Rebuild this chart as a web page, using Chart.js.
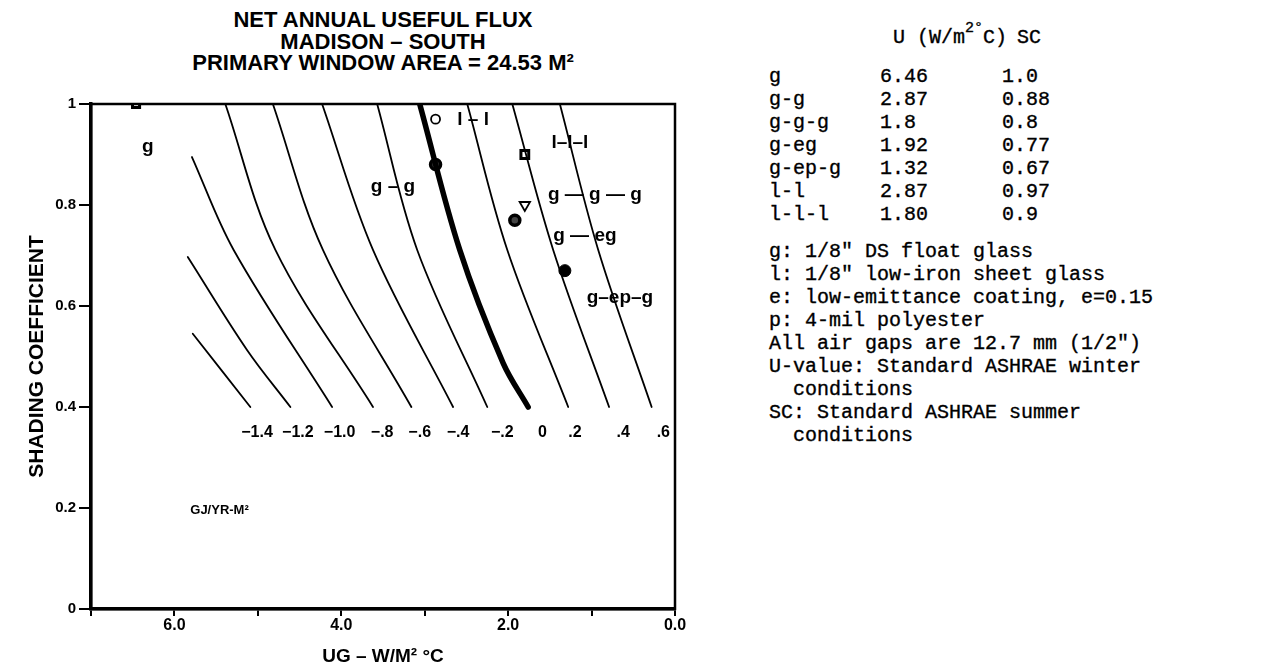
<!DOCTYPE html>
<html>
<head>
<meta charset="utf-8">
<script src="https://cdn.jsdelivr.net/npm/chart.js@4.4.1/dist/chart.umd.min.js"></script>
<style>
  html, body { margin:0; padding:0; background:#fff; }
  #wrap { position:relative; width:1278px; height:667px; overflow:hidden; background:#fff; }
  #plot { position:absolute; left:0; top:0; }
  .ttl { position:absolute; left:0; width:766px; text-align:center; color:#000;
         font:bold 22px/22px "Liberation Sans", Arial, sans-serif; }
  .tx  { position:absolute; color:#000; white-space:pre; -webkit-text-stroke:0.35px #000;
         font:20px/23px "Liberation Mono", "Courier New", monospace; }
  .tx sup { font-size:15px; line-height:0; position:relative; top:-3px; }
</style>
</head>
<body>
<div id="wrap">
  <div class="ttl" style="top:9px">NET ANNUAL USEFUL FLUX</div>
  <div class="ttl" style="top:31px">MADISON – SOUTH</div>
  <div class="ttl" style="top:52px">PRIMARY WINDOW AREA = 24.53 M²</div>
  <canvas id="plot" width="700" height="667"></canvas>
  <div id="table"></div>
</div>
<script>
'use strict';
// ── Net annual useful flux, Madison – South ─────────────

// glazing systems (table on the right + markers in the plot)
const glazingNames  = ['g', 'g-g', 'g-g-g', 'g-eg', 'g-ep-g', 'l-l', 'l-l-l'];
const glazingUText  = ['6.46', '2.87', '1.8', '1.92', '1.32', '2.87', '1.80'];
const glazingSCText = ['1.0', '0.88', '0.8', '0.77', '0.67', '0.97', '0.9'];

// labels written next to the markers
const pointLabels   = ['g', 'g – g', 'g — g — g', 'g — eg', 'g–ep–g', 'l – l', 'l–l–l'];
const pointLabelU   = [6.32, 3.38, 0.96, 1.08, 0.66, 2.42, 1.26];
const pointLabelSC  = [0.915, 0.836, 0.82, 0.739, 0.616, 0.968, 0.923];

// contour lines, GJ/yr-m²
const contourLevels = ['−1.4', '−1.2', '−1.0', '−.8', '−.6', '−.4', '−.2', '0', '.2', '.4', '.6'];
const contourU = [
  [5.78, 5.09],
  [5.84, 5.13, 4.61],
  [5.79, 5.29, 4.11],
  [5.39, 4.79, 3.62],
  [4.82, 4.22, 3.16],
  [4.23, 3.62, 2.66],
  [3.57, 3.09, 2.25],
  [3.06, 2.58, 2.06, 1.76],
  [2.49, 2.01, 1.28],
  [1.95, 1.46, 0.79],
  [1.38, 0.92, 0.28],
];
const contourSC = [
  [0.545, 0.40],
  [0.697, 0.513, 0.40],
  [0.895, 0.711, 0.40],
  [1.0, 0.711, 0.40],
  [1.0, 0.711, 0.40],
  [1.0, 0.711, 0.40],
  [1.0, 0.711, 0.40],
  [1.0, 0.711, 0.487, 0.40],
  [1.0, 0.711, 0.40],
  [1.0, 0.711, 0.40],
  [1.0, 0.711, 0.40],
];
const contourLabelU  = [5.01, 4.52, 4.02, 3.51, 3.06, 2.60, 2.07, 1.59, 1.20, 0.62, 0.14];
const contourLabelSC = 0.35;

const xTicks = [0, 1, 2, 3, 4, 5, 6, 7];
const yTicks = [0, 0.2, 0.4, 0.6, 0.8, 1];

const noteLines = [
  'g: 1/8" DS float glass',
  'l: 1/8" low-iron sheet glass',
  'e: low-emittance coating, e=0.15',
  'p: 4-mil polyester',
  'All air gaps are 12.7 mm (1/2")',
  'U-value: Standard ASHRAE winter',
  '  conditions',
  'SC: Standard ASHRAE summer',
  '  conditions',
];

// ── Table on the right ──────────────────────────────────
const tbl = document.getElementById('table');
const put = (html, left, top) => {
  const d = document.createElement('div');
  d.className = 'tx';
  d.style.left = left + 'px';
  d.style.top  = top + 'px';
  d.innerHTML = html;
  tbl.appendChild(d);
};
put('U (W/m<sup>2°</sup>C)', 893, 26);
put('SC', 1017, 26);
glazingNames.forEach((n, i) => {
  const top = 65 + i * 23;
  put(n, 769, top);
  put(glazingUText[i], 880, top);
  put(glazingSCText[i], 1002, top);
});
noteLines.forEach((t, i) => put(t.replace(/&/g, '&amp;').replace(/</g, '&lt;'), 769, 240 + i * 23));

// ── Chart ───────────────────────────────────────────────
const FONT = '"Liberation Sans", Arial, sans-serif';

const contourSets = contourLevels.map((lv, i) => ({
  label: lv,
  data: contourU[i].map((u, k) => ({ x: u, y: contourSC[i][k] })),
  showLine: true,
  borderColor: '#000',
  borderWidth: lv === '0' ? 5.5 : 1.8,
  pointRadius: 0,
  tension: 0.35,
  borderCapStyle: 'round',
}));

const markerSet = {
  label: 'glazing',
  data: glazingNames.map((n, i) => ({ x: parseFloat(glazingUText[i]), y: parseFloat(glazingSCText[i]) })),
  showLine: false,
  pointStyle:           ['rect', 'circle', 'triangle', 'circle', 'circle', 'circle', 'rect'],
  pointRotation:        [0, 0, 180, 0, 0, 0, 0],
  pointRadius:          [5, 5, 6, 5, 6, 4.5, 5.5],
  pointBorderWidth:     [3, 3.5, 1.8, 3.5, 1, 1.8, 3],
  pointBackgroundColor: ['#fff', '#444', '#fff', '#444', '#000', '#fff', '#fff'],
  pointBorderColor: '#000',
};

const annotate = {
  id: 'annotate',
  afterDatasetsDraw(chart) {
    const { ctx, chartArea: a, scales: { x, y } } = chart;
    ctx.save();
    ctx.strokeStyle = '#000';
    ctx.lineWidth = 2.5;
    ctx.strokeRect(a.left, a.top, a.right - a.left, a.bottom - a.top);

    ctx.fillStyle = '#000';
    ctx.textAlign = 'center';
    ctx.textBaseline = 'middle';
    ctx.font = 'bold 16px ' + FONT;
    contourLevels.forEach((t, i) =>
      ctx.fillText(t, x.getPixelForValue(contourLabelU[i]), y.getPixelForValue(contourLabelSC)));

    ctx.font = 'bold 19px ' + FONT;
    pointLabels.forEach((t, i) =>
      ctx.fillText(t, x.getPixelForValue(pointLabelU[i]), y.getPixelForValue(pointLabelSC[i])));

    ctx.textAlign = 'left';
    ctx.font = 'bold 13px ' + FONT;
    ctx.fillText('GJ/YR-M²', x.getPixelForValue(5.81), y.getPixelForValue(0.196));
    ctx.restore();
  },
};

new Chart(document.getElementById('plot'), {
  type: 'scatter',
  data: { datasets: [...contourSets, markerSet] },
  options: {
    responsive: false,
    animation: false,
    events: [],
    layout: { padding: { top: 104, right: 25, left: 0, bottom: 0 } },
    plugins: { legend: { display: false }, tooltip: { enabled: false } },
    scales: {
      x: {
        type: 'linear', reverse: true, min: 0, max: 7,
        afterBuildTicks: s => { s.ticks = xTicks.map(v => ({ value: v })); },
        afterFit: s => { s.height = 58; },
        ticks: {
          autoSkip: false, maxRotation: 0, padding: 0, color: '#000',
          font: { family: FONT, size: 16, weight: 'bold' },
          callback: v => (v % 2 === 0 ? v.toFixed(1) : ''),
        },
        grid: { drawOnChartArea: false, drawTicks: true, tickLength: 7, color: '#000', lineWidth: 2 },
        border: { display: true, color: '#000', width: 3.5 },
        title: {
          display: true, text: 'UG – W/M² °C', color: '#000',
          font: { family: FONT, size: 19, weight: 'bold', lineHeight: 1 }, padding: { top: 0, bottom: 1 },
        },
      },
      y: {
        type: 'linear', min: 0, max: 1,
        afterBuildTicks: s => { s.ticks = yTicks.map(v => ({ value: v })); },
        afterFit: s => { s.width = 91; },
        ticks: {
          autoSkip: false, padding: 3, color: '#000',
          font: { family: FONT, size: 15, weight: 'bold' },
          callback: v => (v === 0 || v === 1 ? String(v) : v.toFixed(1)),
        },
        grid: { drawOnChartArea: false, drawTicks: true, tickLength: 12, color: '#000', lineWidth: 2 },
        border: { display: true, color: '#000', width: 3.5 },
        title: {
          display: true, text: 'SHADING COEFFICIENT', color: '#000',
          font: { family: FONT, size: 21, weight: 'bold', lineHeight: 1 }, padding: { top: 27, bottom: 0 },
        },
      },
    },
  },
  plugins: [annotate],
});
</script>
</body>
</html>
